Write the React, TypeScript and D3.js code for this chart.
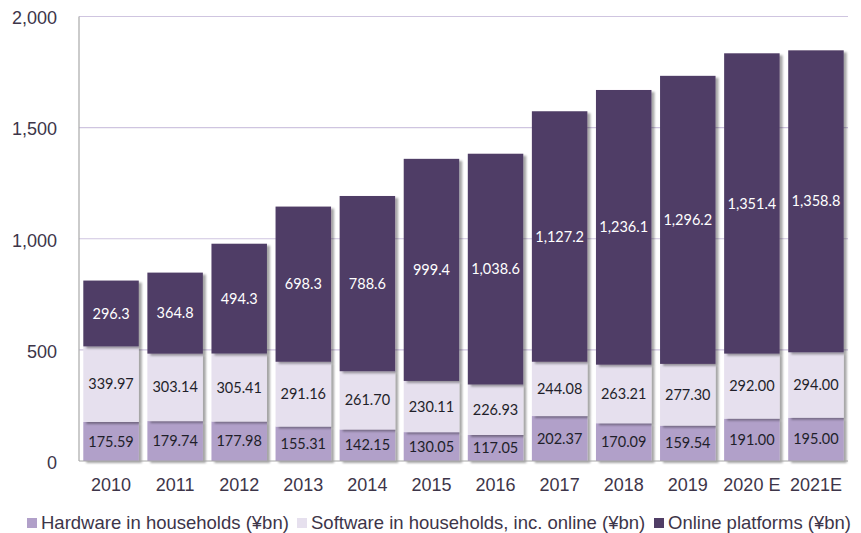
import React from "react";
import * as d3 from "d3";

const years = ["2010","2011","2012","2013","2014","2015","2016","2017","2018","2019","2020 E","2021E"];
const hardware = [175.59,179.74,177.98,155.31,142.15,130.05,117.05,202.37,170.09,159.54,191.0,195.0];
const software = [339.97,303.14,305.41,291.16,261.7,230.11,226.93,244.08,263.21,277.3,292.0,294.0];
const online = [296.3,364.8,494.3,698.3,788.6,999.4,1038.6,1127.2,1236.1,1296.2,1351.4,1358.8];
const yTicks = [0,500,1000,1500,2000];
const seriesNames = ["Hardware in households (¥bn)","Software in households, inc. online (¥bn)","Online platforms (¥bn)"];
const seriesColors = ["#b1a0c9","#e6e0ee","#503e66"];
const labelColors = ["#1f1f2a","#1f1f2a","#ffffff"];

const W = 861, H = 533;
const left = 79, right = 848, top = 16.5, bottom = 461;

export default function App() {
  const x = d3.scaleBand<string>().domain(years).range([left, right]).paddingInner(0.134).paddingOuter(0.067);
  const y = d3.scaleLinear().domain([0, 2000]).range([bottom, top]);
  const rows = years.map((yr, i) => ({ yr, h: hardware[i], s: software[i], o: online[i] }));
  const stack = d3.stack<any>().keys(["h","s","o"])(rows);
  const fmt = (v: number, k: number) => k === 2 ? d3.format(",.1f")(v) : d3.format(".2f")(v);
  const legendX = [27, 297, 654];
  const font = "Liberation Sans, Arial, sans-serif";
  return (
    <svg width={W} height={H} style={{ position: "absolute", left: 0, top: 0, background: "#fff" }}>
      <defs>
        <filter id="sh" x="-10%" y="-10%" width="130%" height="130%">
          <feDropShadow dx="3" dy="2" stdDeviation="1.3" floodColor="#000" floodOpacity="0.35" />
        </filter>
      </defs>
      {yTicks.map(t => (
        <g key={t}>
          {t > 0 && <line x1={left} x2={right} y1={y(t)} y2={y(t)} stroke="#cfc5e0" strokeWidth={1.2} />}
          <text x={57} y={y(t) + 1.5} dy="0.35em" textAnchor="end" fontFamily={font} fontSize={18} fill="#3d3549">{d3.format(",")(t)}</text>
        </g>
      ))}
      {stack.map((layer, k) => (
        <g key={k} filter="url(#sh)">
          {layer.map((d, i) => (
            <rect key={i} x={x(years[i])} width={x.bandwidth()} y={y(d[1])} height={y(d[0]) - y(d[1])} fill={seriesColors[k]} />
          ))}
        </g>
      ))}
      <line x1={left} x2={left} y1={top} y2={bottom} stroke="#a8a8a8" strokeWidth={1.2} />
      <line x1={left} x2={right} y1={bottom} y2={bottom} stroke="#a8a8a8" strokeWidth={1.2} />
      {stack.map((layer, k) => (
        <g key={"l" + k}>
          {layer.map((d, i) => (
            <text key={i} x={(x(years[i]) as number) + x.bandwidth() / 2} y={(y(d[0]) + y(d[1])) / 2} dy="0.35em" textAnchor="middle"
              fontFamily="Lato, Open Sans, sans-serif" fontSize={14.5} fill={labelColors[k]}>{fmt(d[1] - d[0], k)}</text>
          ))}
        </g>
      ))}
      {years.map(yr => (
        <text key={yr} x={(x(yr) as number) + x.bandwidth() / 2} y={485} dy="0.35em" textAnchor="middle" fontFamily={font} fontSize={18} fill="#3d3549">{yr}</text>
      ))}
      {seriesNames.map((n, k) => (
        <g key={n}>
          <rect x={legendX[k]} y={518} width={10} height={10} fill={seriesColors[k]} />
          <text x={legendX[k] + 14} y={523} dy="0.35em" fontFamily={font} fontSize={18.5} fill="#3d3549">{n}</text>
        </g>
      ))}
    </svg>
  );
}
